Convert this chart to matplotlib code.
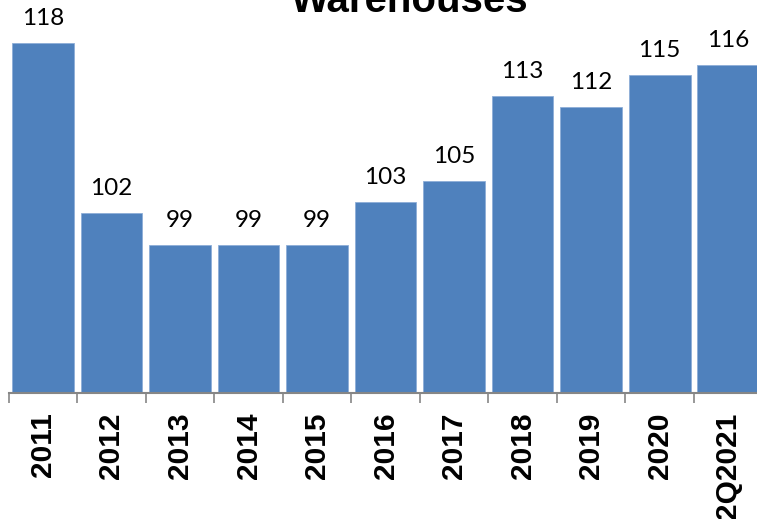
import numpy as np
import matplotlib
matplotlib.use("Agg")
import matplotlib.pyplot as plt

OUTFILE = "out.png"

CATEGORIES = ['2011', '2012', '2013', '2014', '2015', '2016', '2017',
              '2018', '2019', '2020', '2Q2021']
VALUES = [118, 102, 99, 99, 99, 103, 105, 113, 112, 115, 116]
TITLE = 'Warehouses'

BAR_COLOR = '#4F81BD'
Y_MIN = 85
Y_MAX = 122.1

fig = plt.figure(figsize=(7.57, 5.19), dpi=100)
ax = fig.add_axes([8.7 / 757, 1 - 392.7 / 519, 753.8 / 757, 392.7 / 519])

x = np.arange(len(CATEGORIES))
bars = ax.bar(x, VALUES, width=0.9, color=BAR_COLOR, edgecolor='#8EAED8',
              linewidth=0.6, zorder=2)
ax.set_xlim(-0.5, len(CATEGORIES) - 0.5)
ax.set_ylim(Y_MIN, Y_MAX)

for xi, v in zip(x, VALUES):
    ax.annotate(str(v), (xi, v), xytext=(0, 14), textcoords='offset pixels',
                ha='center', va='bottom', fontsize=17.5, family='Lato',
                color='black')

for s in ['top', 'left', 'right']:
    ax.spines[s].set_visible(False)
ax.spines['bottom'].set_color('#868686')
ax.spines['bottom'].set_linewidth(1.5)
ax.set_yticks([])

ax.set_xticks(x)
ax.set_xticklabels(CATEGORIES, rotation=90, fontsize=21.5, fontweight='bold',
                   family='Liberation Sans')
ax.set_xticks(np.arange(-0.5, len(CATEGORIES), 1), minor=True)
ax.tick_params(axis='x', which='major', length=0, pad=14)
ax.tick_params(axis='x', which='minor', length=7.5, width=1.2,
               color='#868686', direction='out')

fig.text(410 / 757, 1 - 12 / 519, TITLE, ha='center', va='baseline',
         fontsize=29, fontweight='bold', family='Liberation Sans')

fig.savefig(OUTFILE, dpi=100)
